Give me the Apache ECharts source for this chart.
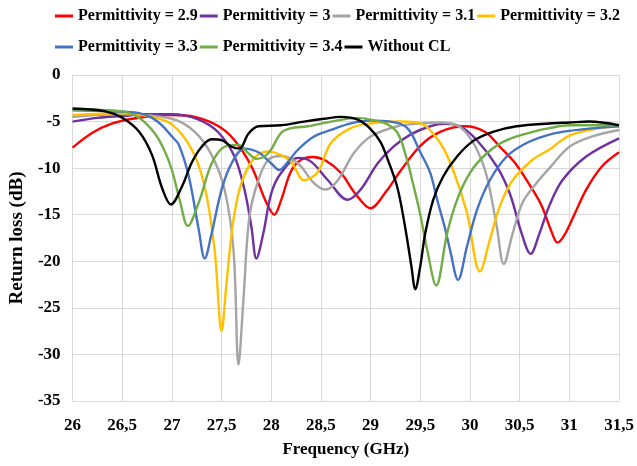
<!DOCTYPE html>
<html>
<head>
<meta charset="utf-8">
<script src="https://cdn.jsdelivr.net/npm/echarts@6/dist/echarts.min.js"></script>
<style>
  html, body { margin: 0; padding: 0; background: #fff; }
  #chart { width: 637px; height: 466px; }
</style>
</head>
<body>
<div id="chart"></div>
<script>
// Return loss (dB) versus frequency (GHz) for several substrate permittivities.
const seriesNames = [
  'Permittivity = 2.9', 'Permittivity = 3', 'Permittivity = 3.1', 'Permittivity = 3.2',
  'Permittivity = 3.3', 'Permittivity = 3.4', 'Without CL'
];
const seriesColors = ['#FF0000', '#7030A0', '#A5A5A5', '#FFC000', '#4472C4', '#70AD47', '#000000'];

const freqEps29 = [26.0, 26.2, 26.4, 26.6, 26.8, 27.0, 27.23, 27.47, 27.63, 27.8, 27.95, 28.03, 28.1, 28.2, 28.3, 28.42, 28.55, 28.7, 28.85, 29.0, 29.15, 29.3, 29.5, 29.7, 29.95, 30.15, 30.3, 30.45, 30.6, 30.72, 30.82, 30.88, 30.95, 31.05, 31.17, 31.33, 31.5];
const rlEps29   = [-7.8, -6.2, -5.2, -4.7, -4.4, -4.3, -4.5, -5.5, -7.0, -9.8, -13.7, -15.0, -13.4, -10.3, -9.1, -8.8, -9.2, -10.5, -12.8, -14.3, -12.6, -10.3, -7.6, -6.1, -5.5, -6.1, -7.7, -9.4, -11.8, -14.0, -16.8, -18.0, -17.2, -15.0, -12.3, -9.8, -8.3];

const freqEps30 = [26.0, 26.25, 26.5, 26.75, 27.0, 27.27, 27.47, 27.63, 27.73, 27.8, 27.85, 27.92, 28.0, 28.1, 28.27, 28.4, 28.57, 28.77, 28.9, 29.07, 29.23, 29.4, 29.6, 29.75, 29.9, 30.07, 30.27, 30.4, 30.52, 30.61, 30.7, 30.8, 30.93, 31.17, 31.5];
const rlEps30   = [-5.0, -4.6, -4.4, -4.2, -4.2, -4.8, -6.2, -8.75, -12.3, -16.3, -19.7, -17.0, -12.7, -10.5, -8.9, -9.3, -11.3, -13.4, -12.3, -9.5, -7.7, -6.4, -5.5, -5.25, -5.5, -7.0, -9.8, -12.7, -17.0, -19.2, -17.0, -14.0, -11.3, -8.75, -6.8];

const freqEps31 = [26.0, 26.5, 27.0, 27.23, 27.4, 27.53, 27.62, 27.67, 27.72, 27.78, 27.87, 27.97, 28.1, 28.27, 28.43, 28.55, 28.67, 28.83, 29.0, 29.27, 29.5, 29.7, 29.87, 29.97, 30.07, 30.17, 30.27, 30.34, 30.43, 30.53, 30.67, 30.8, 31.0, 31.23, 31.5];
const rlEps31   = [-4.5, -4.2, -4.7, -6.1, -8.6, -12.3, -18.8, -31.1, -24.1, -15.2, -11.3, -9.1, -8.7, -9.5, -11.6, -12.3, -11.3, -8.4, -6.6, -5.5, -5.2, -5.1, -5.4, -6.3, -8.0, -10.9, -16.3, -20.3, -17.0, -13.7, -11.6, -10.0, -7.7, -6.6, -5.9];

const freqEps32 = [26.0, 26.5, 26.8, 27.0, 27.2, 27.33, 27.43, 27.5, 27.55, 27.62, 27.7, 27.83, 27.97, 28.1, 28.2, 28.33, 28.47, 28.6, 28.8, 29.0, 29.3, 29.5, 29.7, 29.83, 29.97, 30.1, 30.2, 30.3, 30.43, 30.63, 30.8, 31.0, 31.3, 31.5];
const rlEps32   = [-4.3, -4.1, -4.5, -5.3, -8.0, -12.0, -18.8, -27.5, -22.3, -15.5, -11.6, -8.9, -8.2, -8.6, -9.3, -11.3, -10.4, -7.3, -5.7, -5.2, -5.0, -5.2, -7.3, -10.2, -14.8, -21.1, -17.7, -14.1, -11.3, -9.1, -8.0, -6.5, -5.7, -5.5];

const freqEps33 = [26.0, 26.4, 26.67, 26.8, 26.9, 27.0, 27.07, 27.17, 27.27, 27.33, 27.4, 27.5, 27.6, 27.73, 27.87, 28.0, 28.08, 28.17, 28.27, 28.43, 28.6, 28.8, 29.0, 29.2, 29.37, 29.5, 29.6, 29.67, 29.75, 29.8, 29.88, 29.97, 30.07, 30.2, 30.37, 30.57, 30.8, 31.0, 31.25, 31.5];
const rlEps33   = [-3.8, -3.9, -4.1, -4.6, -5.4, -6.6, -7.5, -10.9, -16.6, -19.7, -17.0, -12.3, -9.5, -7.9, -8.3, -9.5, -10.2, -9.3, -8.0, -6.6, -5.9, -5.2, -4.9, -5.0, -5.7, -8.3, -10.5, -13.4, -16.5, -18.8, -22.0, -18.4, -14.5, -11.3, -8.75, -7.3, -6.4, -6.0, -5.7, -5.5];

const freqEps34 = [26.0, 26.5, 26.67, 26.83, 26.92, 27.0, 27.08, 27.16, 27.27, 27.4, 27.53, 27.67, 27.77, 27.85, 27.97, 28.1, 28.2, 28.37, 28.6, 28.87, 29.0, 29.15, 29.27, 29.35, 29.43, 29.5, 29.57, 29.66, 29.77, 29.87, 30.0, 30.17, 30.37, 30.63, 30.8, 31.0, 31.5];
const rlEps34   = [-3.7, -3.9, -4.6, -6.3, -8.0, -10.2, -13.5, -16.2, -13.7, -9.5, -7.7, -7.5, -8.4, -9.0, -8.4, -6.2, -5.7, -5.5, -5.0, -4.6, -4.8, -5.2, -6.2, -8.5, -11.8, -15.0, -18.8, -22.6, -17.0, -13.4, -10.5, -8.4, -7.0, -6.1, -5.7, -5.4, -5.4];

const freqNoCL = [26.0, 26.33, 26.5, 26.67, 26.8, 26.9, 26.99, 27.1, 27.2, 27.3, 27.4, 27.5, 27.6, 27.68, 27.77, 27.87, 28.1, 28.33, 28.53, 28.7, 28.87, 29.0, 29.1, 29.17, 29.27, 29.35, 29.41, 29.45, 29.5, 29.55, 29.63, 29.73, 29.87, 30.03, 30.23, 30.47, 30.8, 31.0, 31.2, 31.5];
const rlNoCL   = [-3.6, -3.9, -4.6, -6.1, -8.6, -12.1, -13.9, -12.0, -9.4, -7.7, -6.9, -7.0, -7.7, -7.9, -6.3, -5.5, -5.4, -5.0, -4.7, -4.5, -4.8, -5.8, -7.2, -9.0, -12.1, -16.5, -20.5, -23.0, -20.5, -17.0, -13.4, -10.9, -8.75, -7.1, -6.1, -5.5, -5.2, -5.1, -5.0, -5.4];

const freqSets = [freqEps29, freqEps30, freqEps31, freqEps32, freqEps33, freqEps34, freqNoCL];
const rlSets   = [rlEps29, rlEps30, rlEps31, rlEps32, rlEps33, rlEps34, rlNoCL];

const xTickValues = [26, 26.5, 27, 27.5, 28, 28.5, 29, 29.5, 30, 30.5, 31, 31.5];
const yTickValues = [0, -5, -10, -15, -20, -25, -30, -35];

const serif = "'Liberation Serif', 'DejaVu Serif', serif";

const zip = (xs, ys) => xs.map((x, i) => [x, ys[i]]);

const series = seriesNames.map((name, i) => ({
  name,
  type: 'line',
  data: zip(freqSets[i], rlSets[i]),
  symbol: 'none',
  smooth: 0.35,
  lineStyle: { width: 2.4, color: seriesColors[i] },
  itemStyle: { color: seriesColors[i] },
  z: 2 + i
}));

// Legend entries sit in fixed-width columns, with a plain line as the key
const legendBase = {
  orient: 'horizontal',
  left: 50,
  icon: 'rect',
  itemWidth: 18,
  itemHeight: 3,
  itemGap: 2,
  textStyle: {
    fontFamily: serif,
    fontWeight: 'bold',
    fontSize: 16,
    color: '#000',
    width: 117,
    overflow: 'none'
  }
};

const chart = echarts.init(document.getElementById('chart'), null, { renderer: 'canvas' });
chart.setOption({
  animation: false,
  backgroundColor: '#ffffff',
  color: seriesColors,
  legend: [
    Object.assign({}, legendBase, { top: 3, data: seriesNames.slice(0, 4) }),
    Object.assign({}, legendBase, { top: 34, data: seriesNames.slice(4) })
  ],
  grid: { left: 70, right: 18, top: 75, bottom: 65, containLabel: false },
  xAxis: {
    type: 'value',
    min: 26,
    max: 31.5,
    interval: 0.5,
    name: 'Frequency (GHz)',
    nameLocation: 'middle',
    nameGap: 40,
    nameTextStyle: { fontFamily: serif, fontWeight: 'bold', fontSize: 17, color: '#000' },
    axisLine: { show: true, lineStyle: { color: '#d9d9d9', width: 1 } },
    axisTick: { show: false },
    axisLabel: {
      margin: 16,
      fontFamily: serif,
      fontWeight: 'bold',
      fontSize: 17,
      color: '#000',
      formatter: v => {
        const t = xTickValues.find(tv => Math.abs(tv - v) < 1e-6);
        return t === undefined ? '' : String(t).replace('.', ',');
      }
    },
    splitLine: { show: true, lineStyle: { color: '#d9d9d9', width: 1 } }
  },
  yAxis: {
    type: 'value',
    min: -35,
    max: 0,
    interval: 5,
    name: 'Return loss (dB)',
    nameLocation: 'middle',
    nameGap: 39,
    nameRotate: 90,
    nameTextStyle: { fontFamily: serif, fontWeight: 'bold', fontSize: 19, color: '#000' },
    axisLine: { show: true, lineStyle: { color: '#d9d9d9', width: 1 } },
    axisTick: { show: false },
    axisLabel: {
      margin: 12,
      fontFamily: serif,
      fontWeight: 'bold',
      fontSize: 17,
      color: '#000',
      formatter: v => {
        const t = yTickValues.find(tv => Math.abs(tv - v) < 1e-6);
        return t === undefined ? '' : String(t);
      }
    },
    splitLine: { show: true, lineStyle: { color: '#d9d9d9', width: 1 } }
  },
  series
});
</script>
</body>
</html>
